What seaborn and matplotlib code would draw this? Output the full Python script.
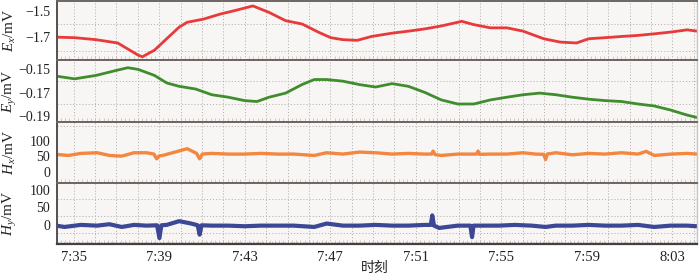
import numpy as np
import pandas as pd
import matplotlib
matplotlib.use("Agg")
import matplotlib.pyplot as plt
import seaborn as sns
from matplotlib.ticker import MultipleLocator, FixedLocator

# ---- data (minutes after 7:35) ----
ex_t = [-0.82, 0.04, 1.04, 2.06, 3.01, 3.21, 3.78, 4.35, 4.93, 5.31, 6.08, 6.84, 7.61, 8.38,
        9.14, 9.91, 10.68, 11.44, 12.02, 12.59, 13.26, 13.93, 14.89, 15.65, 16.42, 17.19,
        18.15, 18.72, 19.49, 20.26, 21.02, 21.98, 22.75, 23.51, 24.09, 24.85, 25.62, 26.39,
        27.15, 27.92, 28.69, 29.16]
ex_v = [-1.698, -1.702, -1.717, -1.742, -1.833, -1.846, -1.796, -1.710, -1.623, -1.586,
        -1.562, -1.525, -1.495, -1.463, -1.512, -1.574, -1.599, -1.660, -1.702, -1.717,
        -1.722, -1.693, -1.668, -1.653, -1.636, -1.614, -1.579, -1.604, -1.628, -1.628,
        -1.653, -1.710, -1.735, -1.742, -1.710, -1.702, -1.693, -1.685, -1.673, -1.660,
        -1.643, -1.653]

ey_t = [-0.82, 0.04, 1.04, 2.06, 2.53, 3.01, 3.78, 4.35, 4.93, 5.70, 6.46, 7.23, 7.99, 8.57,
        9.14, 9.91, 10.68, 11.25, 11.83, 12.59, 13.36, 14.12, 14.89, 15.65, 16.42, 17.19,
        17.96, 18.72, 19.49, 20.26, 21.02, 21.79, 22.55, 23.32, 24.09, 24.85, 25.62, 26.39,
        27.15, 27.92, 28.69, 29.16]
ey_v = [-0.1558, -0.1581, -0.1552, -0.1506, -0.1486, -0.1500, -0.1552, -0.1616, -0.1645,
        -0.1668, -0.1717, -0.1738, -0.1767, -0.1775, -0.1738, -0.1703, -0.1630, -0.1587,
        -0.1587, -0.1601, -0.1630, -0.1651, -0.1622, -0.1645, -0.1697, -0.1761, -0.1796,
        -0.1796, -0.1761, -0.1738, -0.1717, -0.1703, -0.1717, -0.1738, -0.1755, -0.1767,
        -0.1775, -0.1796, -0.1813, -0.1848, -0.1891, -0.1912]

hx_t = [-0.82, -0.24, 0.33, 1.10, 1.67, 2.25, 2.82, 3.40, 3.75, 3.88, 4.00, 4.16, 4.74, 5.31,
        5.75, 5.89, 6.02, 6.46, 7.23, 7.99, 8.76, 9.53, 10.29, 11.25, 11.83, 12.59, 13.36,
        14.12, 14.89, 15.65, 16.42, 16.75, 16.81, 16.90, 17.19, 17.96, 18.72, 18.85, 18.91,
        18.98, 19.49, 20.26, 21.02, 21.60, 21.98, 22.07, 22.15, 22.55, 23.32, 24.09, 24.85,
        25.62, 26.39, 26.77, 27.15, 27.92, 28.69, 29.16]
hx_v = [56.7, 53.3, 60.0, 62.2, 53.3, 51.1, 62.2, 62.2, 58.0, 42.2, 52.0, 53.3, 64.4, 75.5,
        60.0, 42.2, 58.0, 60.0, 57.8, 57.8, 60.0, 57.8, 57.8, 53.3, 62.2, 57.8, 64.4, 62.2,
        57.8, 60.0, 57.8, 58.0, 67.8, 56.0, 53.3, 57.8, 57.8, 58.0, 67.8, 57.0, 57.8, 57.8,
        62.2, 57.8, 57.0, 40.0, 58.0, 62.2, 55.5, 60.0, 57.8, 62.2, 57.8, 66.7, 53.3, 57.8,
        60.0, 57.8]

hy_t = [-0.82, -0.43, 0.33, 1.10, 1.67, 2.25, 2.82, 3.40, 3.90, 4.01, 4.10, 4.35, 4.93, 5.50,
        5.80, 5.89, 5.98, 6.46, 7.23, 7.99, 8.76, 9.53, 10.29, 11.25, 11.83, 12.59, 13.36,
        14.12, 14.89, 15.65, 16.42, 16.70, 16.77, 16.85, 17.09, 17.96, 18.55, 18.63, 18.70,
        19.11, 19.87, 20.64, 21.41, 22.07, 22.55, 23.32, 24.09, 24.85, 25.62, 26.39, 27.15,
        27.92, 28.69, 29.16]
hy_v = [-3.0, -6.8, -0.9, -3.0, 1.1, -6.8, -0.9, -3.0, -2.0, -39.0, -2.0, -0.9, 9.9, 3.0,
        -2.0, -29.0, -2.0, -3.0, -3.0, -4.8, -3.0, -3.0, -3.0, -6.8, 3.0, -3.0, -3.0, -0.9,
        -3.0, -3.0, -0.9, -1.0, 26.6, -3.0, -9.7, -3.0, -3.0, -36.2, -3.0, -3.0, -3.0, -0.9,
        -3.0, -6.8, -3.0, -3.0, -0.9, -3.0, -3.0, -0.9, -6.8, -3.0, -3.0, -4.8]

xtick_pos = [0, 4, 8, 12, 16, 20, 24, 28]
xtick_labels = ["7:35", "7:39", "7:43", "7:47", "7:51", "7:55", "7:59", "8:03"]

ylabels = [r"$E_x$/mV", r"$E_y$/mV", r"$H_x$/mV", r"$H_y$/mV"]
yticks = [[-1.5, -1.7], [-0.15, -0.17, -0.19], [0, 50, 100], [0, 50, 100]]
yticklabels = [["−1.5", "−1.7"], ["−0.15", "−0.17", "−0.19"], ["0", "50", "100"], ["0", "50", "100"]]

# ---- style ----
sns.set_style("white")
plt.rcParams["font.family"] = ["Liberation Serif", "Noto Sans CJK SC", "DejaVu Sans"]
plt.rcParams["mathtext.fontset"] = "custom"
plt.rcParams["mathtext.rm"] = "Liberation Serif"
plt.rcParams["mathtext.it"] = "Liberation Serif:italic"

W, H = 700, 276
fig = plt.figure(figsize=(W / 100, H / 100), dpi=100)
fig.patch.set_facecolor("white")

panels_px = [(1, 60), (60, 122), (122, 183), (183, 244)]
ylims = [(-1.87, -1.426), (-0.195, -0.142), (-37, 163), (-56, 120)]
ygrid_step = [0.1, 0.01, 50, 25]
colors = ["#e8393b", "#3f8d2c", "#f3873f", "#3c4896"]
lws = [2.0, 2.0, 2.4, 3.0]
series = [(ex_t, ex_v), (ey_t, ey_v), (hx_t, hx_v), (hy_t, hy_v)]

left, right = 57 / W, 697 / W
sep_color = "#6e6560"
for i, (top, bot) in enumerate(panels_px):
    ax = fig.add_axes([left, 1 - bot / H, right - left, (bot - top) / H])
    ax.set_facecolor("#f8f6f4")
    t, v = series[i]
    df = pd.DataFrame({"t": t, "v": v})
    sns.lineplot(data=df, x="t", y="v", ax=ax, color=colors[i], lw=lws[i],
                 estimator=None, sort=False)
    ax.set_xlim(-0.78, 29.15)
    ax.set_ylim(*ylims[i])
    ax.xaxis.set_major_locator(FixedLocator(xtick_pos))
    ax.xaxis.set_minor_locator(MultipleLocator(0.2))
    ax.set_yticks(yticks[i])
    ax.set_yticklabels(yticklabels[i])
    ax.yaxis.set_minor_locator(MultipleLocator(ygrid_step[i]))
    for g in np.arange(-1, 30, 1):
        ax.axvline(g, color="#b9b5b2", lw=0.7, ls=(0, (1.2, 2)), zorder=0)
    ax.grid(False)
    ax.yaxis.grid(True, which="minor", color="#b9b5b2", lw=0.7, ls=(0, (1.2, 2)), zorder=0)
    ax.set_axisbelow(True)
    ax.tick_params(axis="y", which="major", labelsize=10, length=0, pad=5, colors="#222222")
    ax.tick_params(axis="y", which="minor", length=0)
    ax.tick_params(axis="x", which="minor", direction="in", length=3, width=0.5, color="#bdb8b4",
                   top=False, bottom=True)
    ax.tick_params(axis="x", which="major", direction="in", length=3, width=0.6, color="#bdb8b4")
    ax.set_xlabel("")
    ax.set_ylabel(ylabels[i], fontsize=11, color="#222222", labelpad=0)
    ax.yaxis.label.set_va("center")
    ax.yaxis.set_label_coords(-0.074, 0.5)
    for s in ["top", "bottom"]:
        ax.spines[s].set_color(sep_color)
        ax.spines[s].set_linewidth(1.4)
    ax.spines["left"].set_color("#555050")
    ax.spines["left"].set_linewidth(1.4)
    ax.spines["right"].set_color("#c9c5c2")
    ax.spines["right"].set_linewidth(1.0)
    if i < 3:
        ax.tick_params(axis="x", labelbottom=False)
    else:
        ax.set_xticklabels(xtick_labels)
        ax.tick_params(axis="x", which="major", labelsize=10.5, pad=5, colors="#222222")
        ax.spines["bottom"].set_color("#444040")
        ax.spines["bottom"].set_linewidth(1.6)

fig.text((57 + 697) / 2 / W - 0.003, 1 - 268 / H, "时刻", ha="center", va="center",
         fontsize=10, family=["Noto Sans CJK SC", "DejaVu Sans"], color="#222222")

fig.savefig("out.png", dpi=100)
